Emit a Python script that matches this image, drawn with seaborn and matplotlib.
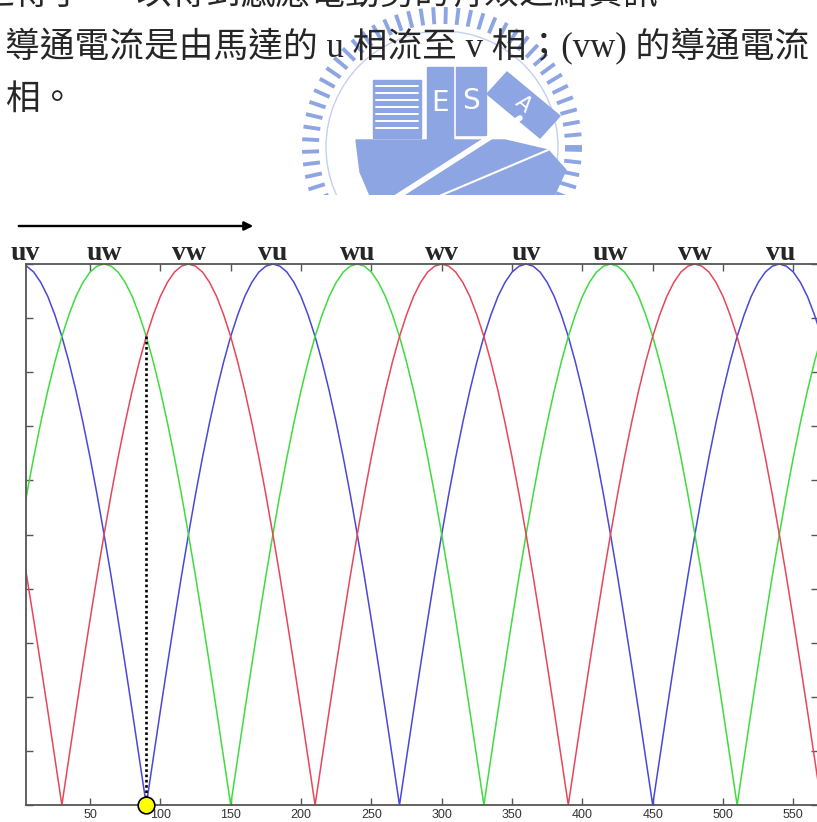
import numpy as np
import pandas as pd
import matplotlib.pyplot as plt
import matplotlib.patches as mpatches
import seaborn as sns

# ------------------------------------------------------- #
#                  DATA             #
# ------------------------------------------------------- #
# one rectified half wave, sampled every 5 units from 0 to 180
step = 5
arch = [0.000, 0.087, 0.174, 0.259, 0.342, 0.423, 0.500, 0.574, 0.643, 0.707,
        0.766, 0.819, 0.866, 0.906, 0.940, 0.966, 0.985, 0.996, 1.000, 0.996,
        0.985, 0.966, 0.940, 0.906, 0.866, 0.819, 0.766, 0.707, 0.643, 0.574,
        0.500, 0.423, 0.342, 0.259, 0.174, 0.087, 0.000]

# where each half wave of every trace starts (its zero)
starts_blue = [-90, 90, 270, 450]
starts_green = [-30, 150, 330, 510]
starts_red = [-150, 30, 210, 390]

# conduction pairs written above the plot
pair_labels = ['uv', 'uw', 'vw', 'vu', 'wu', 'wv', 'uv', 'uw', 'vw', 'vu']
pair_pos = [4, 60, 120, 180, 240, 300, 360, 420, 480, 541]

# marked commutation point
mark_x = 90
mark_y = 0.866

x_ticks = [50, 100, 150, 200, 250, 300, 350, 400, 450, 500, 550]
y_ticks = [0.0, 0.1, 0.2, 0.3, 0.4, 0.5, 0.6, 0.7, 0.8, 0.9, 1.0]

text_lines = ['之得手一  以得到感應電動勢的有效之結資訊',
              '導通電流是由馬達的 u 相流至 v 相；(vw) 的導通電流',
              '相。']

rows = []
for name, starts in [('blue', starts_blue), ('green', starts_green), ('red', starts_red)]:
    for s in starts:
        for i, v in enumerate(arch):
            rows.append({'x': s + i * step, 'y': v, 'trace': name})
df = pd.DataFrame(rows)

palette = {'blue': '#4848dc', 'green': '#3edc3e', 'red': '#e6475a'}

# ------------------------------------------------------- #
#                          FIGURE                         #
# ------------------------------------------------------- #
sns.set_style('white')
plt.rcParams['font.family'] = ['Liberation Serif', 'Noto Sans CJK TC', 'DejaVu Sans']

W, H = 817, 822
fig = plt.figure(figsize=(W / 100, H / 100), dpi=100)

#                    watermark (pixel coords)              #
wm = fig.add_axes([0, 1 - 195 / H, 1, 195 / H])
wm.set_xlim(0, W)
wm.set_ylim(195, 0)
wm.axis('off')
wc = '#8ea5e4'
cx, cy = 442, 147
for a in np.arange(0, 360, 5.2):
    r = np.deg2rad(a)
    wm.plot([cx + 123 * np.cos(r), cx + 140 * np.cos(r)],
            [cy - 123 * np.sin(r), cy - 140 * np.sin(r)],
            color=wc, lw=2.8, solid_capstyle='butt')
wm.add_patch(mpatches.Circle((cx, cy), 116, fill=False, ec='#c4cff1', lw=1))
# buildings
wm.add_patch(mpatches.Rectangle((373, 80), 48, 58, color=wc))
for yy in range(86, 134, 7):
    wm.plot([376, 418], [yy, yy], color='white', lw=1.4)
wm.add_patch(mpatches.Rectangle((427, 67), 26, 73, color=wc))
wm.add_patch(mpatches.Rectangle((456, 67), 30, 68, color=wc))
wm.text(440, 103, 'E', color='white', fontsize=20, ha='center', va='center',
        family='DejaVu Sans')
wm.text(471, 101, 'S', color='white', fontsize=20, ha='center', va='center',
        family='DejaVu Sans')
wm.add_patch(mpatches.Polygon([(487, 94), (507, 72), (560, 116), (540, 138)], color=wc))
wm.text(523, 104, 'A', color='white', fontsize=15, ha='center', va='center',
        rotation=-40, family='DejaVu Sans')
# base
wm.add_patch(mpatches.Polygon([(356, 140), (505, 140), (548, 150), (566, 170),
                               (552, 200), (372, 200), (360, 172)], color=wc))
wm.plot([392, 520], [200, 118], color='white', lw=4)
wm.plot([430, 548], [200, 150], color='white', lw=1.5)

#                        page text                        #
fig.text(-20 / W, 1 - (-5) / H, text_lines[0], fontsize=25, va='center', ha='left')
fig.text(5 / W, 1 - 47 / H, text_lines[1], fontsize=25, va='center', ha='left')
fig.text(5 / W, 1 - 100 / H, text_lines[2], fontsize=25, va='center', ha='left')

# direction arrow
fig.add_artist(mpatches.FancyArrowPatch((16 / W, 1 - 226 / H), (256 / W, 1 - 226 / H),
                                        transform=fig.transFigure, arrowstyle='-|>',
                                        mutation_scale=13, lw=1.7, color='black'))

#                        plot axes                        #
ax = fig.add_axes([26 / W, 1 - 805 / H, (818 - 26) / W, (805 - 264) / H])
sns.lineplot(data=df, x='x', y='y', hue='trace', palette=palette, estimator=None,
             sort=True, lw=1.1, legend=False, ax=ax)

ax.plot([mark_x, mark_x], [mark_y, 0], color='black', lw=1.9, dashes=(1, 1), zorder=4)
ax.plot([mark_x], [0], 'o', ms=12, mfc='#ffff00', mec='black', mew=1.2,
        clip_on=False, zorder=6)

for lab, p in zip(pair_labels, pair_pos):
    ax.text(p, 1.008, lab, transform=ax.get_xaxis_transform(), ha='center',
            va='baseline', fontsize=20, fontweight='bold', family='Liberation Serif')

ax.set_xlim(4.5, 567.5)
ax.set_ylim(0, 1)
ax.set_xticks(x_ticks)
ax.set_yticks(y_ticks)
ax.set_yticklabels([])
ax.set_xlabel('')
ax.set_ylabel('')
ax.tick_params(direction='in', length=5, width=1, color='#555555',
               top=True, right=True, left=True, bottom=True,
               labelsize=9, labelcolor='#333333', pad=3)
for lab in ax.get_xticklabels():
    lab.set_family('Liberation Sans')
for sp in ax.spines.values():
    sp.set_color('#555555')
    sp.set_linewidth(1.3)
ax.set_facecolor('white')

plt.savefig('out.png', dpi=100)
